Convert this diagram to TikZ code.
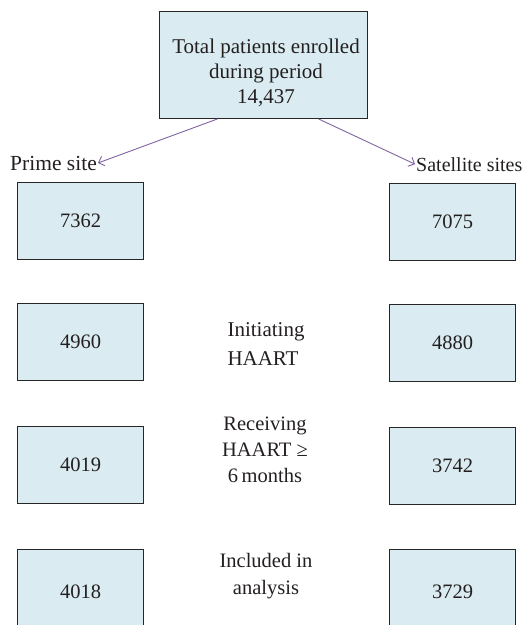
\documentclass[tikz,border=0pt]{standalone}
\usepackage{fontspec}
\setmainfont{Liberation Serif}
\usetikzlibrary{arrows.meta,calc}
\definecolor{boxfill}{HTML}{DAECF1}
\definecolor{arrowpurple}{HTML}{8064A2}
\definecolor{textcol}{HTML}{231F20}
\begin{document}
\begin{tikzpicture}[x=1pt,y=-1pt,
  every node/.style={text=textcol},
  numbox/.style={draw=black!85,line width=1pt,fill=boxfill,minimum width=126pt,minimum height=77pt,inner sep=0pt,anchor=north west,font=\fontsize{20.5}{24}\selectfont},
  topbox/.style={draw=black!85,line width=1pt,fill=boxfill,minimum width=208pt,minimum height=107pt,inner sep=0pt,anchor=north west},
  lbl/.style={inner sep=1pt,font=\fontsize{20.5}{24}\selectfont},
  midlbl/.style={inner sep=0pt,align=center,anchor=north,font=\fontsize{20.5}{27}\selectfont},
  conn/.style={draw=arrowpurple,line width=0.9pt,-{Straight Barb[length=5pt,width=10pt,line width=0.9pt]}}
]
\useasboundingbox (0,0) rectangle (531,625);
\clip (0,0) rectangle (531,625);
% top box
\node[topbox] (top) at (159,11) {};
\node[inner sep=0pt,align=center,anchor=north,font=\fontsize{21}{25}\selectfont] (toptext) at (266,39) {Total patients enrolled\\during period\\14,437};
% site labels
\node[lbl,anchor=base west,font=\fontsize{21.5}{24}\selectfont] (prime) at (9,170) {Prime site};
\node[lbl,anchor=base west,font=\fontsize{20}{24}\selectfont] (sat) at (415,171) {Satellite sites};
% connectors
\draw[conn] ($(top.south west)!0.279!(top.south east)$) -- (prime.east);
\draw[conn] ($(top.south west)!0.764!(top.south east)$) -- (sat.west);
% boxes
\node[numbox] (p1) at (17,182) {7362};
\node[numbox] (s1) at (389,183) {7075};
\node[numbox] (p2) at (17,303) {4960};
\node[numbox] (s2) at (389,304) {4880};
\node[numbox] (p3) at (17,426) {4019};
\node[numbox] (s3) at (389,427) {3742};
\node[numbox,minimum height=90pt] (p4) at (17,549) {\raisebox{6.5pt}{4018}};
\node[numbox,minimum height=90pt] (s4) at (389,549) {\raisebox{6.5pt}{3729}};
% middle labels
\node[midlbl,align=left,font=\fontsize{21}{29}\selectfont] (m1) at (266,322) {Initiating\\HAART};
\node[midlbl,font=\fontsize{20.5}{26}\selectfont] (m2) at (265,416.5) {Receiving\\HAART ≥\\6\,months};
\node[midlbl,font=\fontsize{20.5}{27.5}\selectfont] (m3) at (266,553) {Included in\\analysis};
\end{tikzpicture}
\end{document}
